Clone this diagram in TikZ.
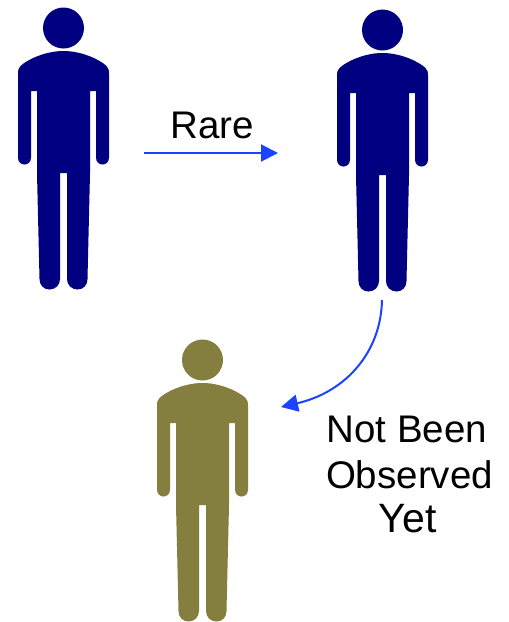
\documentclass[tikz,border=0pt]{standalone}
\usepackage{fontspec}
\setmainfont{Liberation Sans}
\usetikzlibrary{arrows.meta}
\definecolor{navyfig}{HTML}{000080}
\definecolor{olivefig}{HTML}{847F3E}
\definecolor{arrowblue}{HTML}{1A44FF}
\tikzset{
  x=1pt,y=-1pt,
  person/.pic={
    \fill[pic actions] (0,0) circle[radius=20.5];
    \fill[pic actions] (0,23)
      .. controls (-20,23) and (-38,33) .. (-43,38)
      .. controls (-45,40) and (-45.5,42) .. (-45.5,46)
      -- (-45.5,129.5)
      .. controls (-45.5,134) and (-42.5,136.5) .. (-39,136.5)
      .. controls (-35.5,136.5) and (-32.5,134) .. (-32.5,129.5)
      -- (-32.5,63) -- (-26.5,63) -- (-26.5,145) -- (-24,251)
      .. controls (-24,257) and (-20,261.5) .. (-14,261.5)
      .. controls (-8,261.5) and (-3.5,257) .. (-3.5,251)
      -- (-3.5,145) -- (3.5,145) -- (3.5,251)
      .. controls (3.5,257) and (8,261.5) .. (14,261.5)
      .. controls (20,261.5) and (24,257) .. (24,251)
      -- (26.5,145) -- (26.5,63) -- (32.5,63) -- (32.5,129.5)
      .. controls (32.5,134) and (35.5,136.5) .. (39,136.5)
      .. controls (42.5,136.5) and (45.5,134) .. (45.5,129.5)
      -- (45.5,46)
      .. controls (45.5,42) and (45,40) .. (43,38)
      .. controls (38,33) and (20,23) .. (0,23) -- cycle;
  },
  flowarrow/.style={arrowblue,line width=2pt,-{Triangle[length=17pt,width=17pt]}},
  caption/.style={font=\fontsize{38.5}{38.5}\selectfont,inner sep=0pt,anchor=base,text=black},
  bigcaption/.style={caption,font=\fontsize{41}{41}\selectfont}
}
\begin{document}
\begin{tikzpicture}
\useasboundingbox (0,0) rectangle (509,622);
\fill[white] (0,0) rectangle (509,622);
\pic[fill=navyfig] at (63.5,28) {person};
\pic[fill=navyfig] at (382.5,30) {person};
\pic[fill=olivefig] at (202.5,360) {person};
\coordinate (rarestart) at (144,153);
\coordinate (rareend) at (278,153);
\coordinate (obsstart) at (382,300);
\coordinate (obsend) at (281,407);
\draw[flowarrow] (rarestart) -- (rareend);
\draw[flowarrow] (obsstart) .. controls (381,352) and (346,392) .. (obsend);
\node[caption] (rare) at (212,138) {Rare};
\node[caption] (notbeen) at (407,442) {Not Been};
\node[caption] (observed) at (409.5,488) {Observed};
\node[bigcaption] (yet) at (407.5,532) {Yet};
\end{tikzpicture}
\end{document}
